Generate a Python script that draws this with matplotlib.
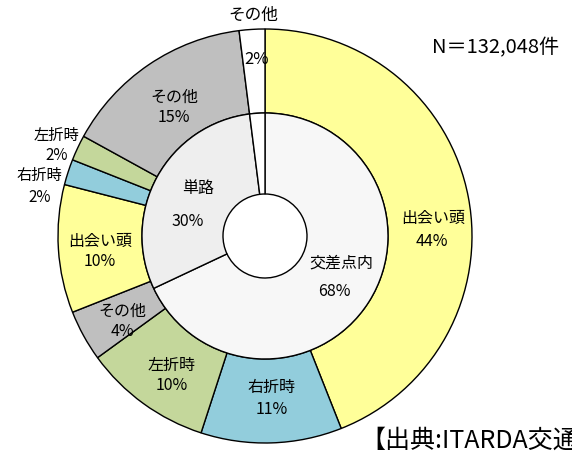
import matplotlib.pyplot as plt

plt.rcParams['font.family'] = ['Noto Sans CJK JP', 'DejaVu Sans']

# inner ring: location of accident
inner_labels = ['交差点内', '単路', 'その他']
inner_values = [68, 30, 2]

# outer ring: accident type within each location
outer_labels = ['出会い頭', '右折時', '左折時', 'その他',
                '出会い頭', '右折時', '左折時', 'その他', 'その他']
outer_values = [44, 11, 10, 4, 10, 2, 2, 15, 2]

total_count = '132,048'

W, H = 572, 454
fig = plt.figure(figsize=(W / 100, H / 100), dpi=100)
ax = fig.add_axes([0, 0, 1, 1])
ax.set_xlim(0, W)
ax.set_ylim(0, H)
ax.set_aspect('equal')
ax.axis('off')

cx, cy = 265, H - 236
r_out, r_mid, r_hole = 207, 123, 42

outer_colors = ['#ffff99', '#92cddc', '#c4d79b', '#bfbfbf',
                '#ffff99', '#92cddc', '#c4d79b', '#bfbfbf', '#ffffff']
inner_colors = ['#f7f7f7', '#eeeeee', '#ffffff']

ax.pie(outer_values, radius=r_out, center=(cx, cy), startangle=90,
       counterclock=False, colors=outer_colors,
       wedgeprops=dict(width=r_out - r_mid, edgecolor='black', linewidth=1.0))
ax.pie(inner_values, radius=r_mid, center=(cx, cy), startangle=90,
       counterclock=False, colors=inner_colors,
       wedgeprops=dict(width=r_mid - r_hole, edgecolor='black', linewidth=1.0))
ax.set_xlim(0, W)
ax.set_ylim(0, H)


def label(x, y, name, pct, dy=22, dx=0, size=11.5):
    ax.text(x, H - y, name, ha='center', va='center', fontsize=size)
    ax.text(x + dx, H - y - dy, f'{pct}%', ha='center', va='center', fontsize=size)


# outer ring labels
label(433, 218, outer_labels[0], outer_values[0], dy=24, dx=-1)
label(272, 387, outer_labels[1], outer_values[1], dy=23)
label(172, 365, outer_labels[2], outer_values[2], dy=21)
label(122, 311, outer_labels[3], outer_values[3], dy=21)
label(100, 241, outer_labels[4], outer_values[4], dy=21)
label(39, 175, outer_labels[5], outer_values[5], dy=22, dx=1, size=11)
label(56, 135, outer_labels[6], outer_values[6], dy=20, dx=1, size=11)
label(174, 97, outer_labels[7], outer_values[7], dy=21)
label(253, 15, outer_labels[8], outer_values[8], dy=44, dx=4, size=12)

# inner ring labels
label(198, 188, inner_labels[1], inner_values[1], dy=34, dx=-10)
label(341, 263, inner_labels[0], inner_values[0], dy=29, dx=-7)

ax.text(496, H - 48, f'N＝{total_count}件', ha='center', va='center', fontsize=14.5)
ax.text(360, H - 441, '【出典:ITARDA交通事故統計】', ha='left', va='center', fontsize=18)

fig.savefig('out.png', dpi=100)
